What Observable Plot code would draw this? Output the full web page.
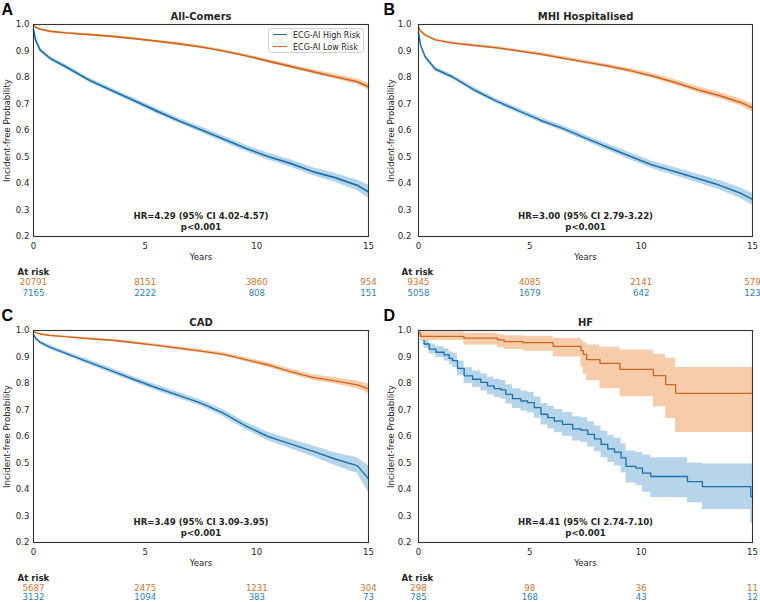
<!DOCTYPE html>
<html><head><meta charset="utf-8">
<script src="https://cdn.jsdelivr.net/npm/d3@7"></script>
<script src="https://cdn.jsdelivr.net/npm/@observablehq/plot@0.6"></script>
<style>
html,body{margin:0;padding:0;background:#fff;overflow:hidden}
#wrap{position:relative;width:760px;height:602px;font-family:"DejaVu Sans",sans-serif}
.panel{position:absolute}
.legend{position:absolute;left:268px;top:28px;width:96px;height:25px;border:1px solid #d0d0d0;border-radius:3px;background:rgba(255,255,255,0.85);font-size:8px;color:#262626;box-sizing:border-box}
.legend .row{position:absolute;left:4px;height:10px;line-height:10px;white-space:nowrap}
.legend .sw{display:inline-block;width:14px;height:0;border-top:1.6px solid;vertical-align:middle;margin-right:6px;position:relative;top:-1px}
</style></head><body><div id="wrap"></div>
<script>
// ---------- shared ticks ----------
const xTicks = [0, 5, 10, 15];
const yTicks = [0.2, 0.3, 0.4, 0.5, 0.6, 0.7, 0.8, 0.9, 1.0];
const riskYears = [0, 5, 10, 15];
const gridYears = [0, 0.1, 0.3, 0.75, 1.5, 2.5, 3.5, 4.5, 5.5, 6.5, 7.5, 8.5, 9.5, 10.5, 11.5, 12.5, 13.5, 14.5, 15];
const groups = ["ECG-AI High Risk", "ECG-AI Low Risk"];

// ---------- A: All-Comers ----------
const highA   = [0.98, 0.94, 0.903, 0.872, 0.838, 0.79, 0.751, 0.713, 0.674, 0.637, 0.603, 0.568, 0.533, 0.502, 0.476, 0.445, 0.422, 0.393, 0.368];
const highA_l = [0.977, 0.934, 0.896, 0.865, 0.83, 0.782, 0.742, 0.704, 0.664, 0.627, 0.592, 0.557, 0.521, 0.489, 0.462, 0.43, 0.405, 0.373, 0.343];
const highA_u = [0.983, 0.946, 0.91, 0.879, 0.846, 0.798, 0.76, 0.722, 0.684, 0.647, 0.614, 0.579, 0.545, 0.515, 0.49, 0.46, 0.439, 0.413, 0.393];
const lowA    = [0.997, 0.99, 0.982, 0.974, 0.968, 0.962, 0.955, 0.947, 0.937, 0.927, 0.915, 0.9, 0.882, 0.862, 0.842, 0.822, 0.803, 0.784, 0.765];
const lowA_l  = [0.996, 0.988, 0.979, 0.971, 0.965, 0.959, 0.951, 0.943, 0.933, 0.922, 0.91, 0.895, 0.876, 0.856, 0.835, 0.814, 0.794, 0.774, 0.753];
const lowA_u  = [0.998, 0.992, 0.985, 0.977, 0.971, 0.965, 0.959, 0.951, 0.941, 0.932, 0.92, 0.905, 0.888, 0.868, 0.849, 0.83, 0.812, 0.794, 0.777];
const riskLowA  = [20791, 8151, 3860, 954];
const riskHighA = [7165, 2222, 808, 151];

// ---------- B: MHI Hospitalised ----------
const highB   = [0.97, 0.92, 0.878, 0.832, 0.803, 0.753, 0.711, 0.674, 0.638, 0.607, 0.571, 0.537, 0.503, 0.47, 0.445, 0.42, 0.394, 0.362, 0.34];
const highB_l = [0.967, 0.914, 0.871, 0.824, 0.795, 0.744, 0.702, 0.664, 0.628, 0.596, 0.56, 0.525, 0.49, 0.456, 0.43, 0.404, 0.376, 0.342, 0.318];
const highB_u = [0.973, 0.926, 0.885, 0.84, 0.811, 0.762, 0.72, 0.684, 0.648, 0.618, 0.582, 0.549, 0.516, 0.484, 0.46, 0.436, 0.412, 0.382, 0.362];
const lowB    = [0.99, 0.975, 0.96, 0.942, 0.93, 0.921, 0.912, 0.9, 0.888, 0.873, 0.858, 0.843, 0.826, 0.806, 0.782, 0.755, 0.732, 0.705, 0.685];
const lowB_l  = [0.988, 0.972, 0.956, 0.938, 0.926, 0.916, 0.907, 0.895, 0.882, 0.867, 0.851, 0.836, 0.818, 0.797, 0.772, 0.744, 0.72, 0.692, 0.67];
const lowB_u  = [0.992, 0.978, 0.964, 0.946, 0.934, 0.926, 0.917, 0.905, 0.894, 0.879, 0.865, 0.85, 0.834, 0.815, 0.792, 0.766, 0.744, 0.718, 0.7];
const riskLowB  = [9345, 4085, 2141, 579];
const riskHighB = [5058, 1679, 642, 123];

// ---------- C: CAD ----------
const highC   = [0.985, 0.97, 0.955, 0.936, 0.912, 0.88, 0.848, 0.815, 0.784, 0.755, 0.726, 0.688, 0.64, 0.6, 0.572, 0.545, 0.515, 0.49, 0.44];
const highC_l = [0.982, 0.964, 0.948, 0.928, 0.904, 0.871, 0.838, 0.805, 0.773, 0.743, 0.714, 0.675, 0.626, 0.584, 0.554, 0.525, 0.491, 0.46, 0.39];
const highC_u = [0.988, 0.976, 0.962, 0.944, 0.92, 0.889, 0.858, 0.825, 0.795, 0.767, 0.738, 0.701, 0.654, 0.616, 0.59, 0.565, 0.539, 0.52, 0.49];
const lowC    = [0.996, 0.992, 0.987, 0.981, 0.976, 0.969, 0.963, 0.954, 0.944, 0.933, 0.922, 0.91, 0.89, 0.87, 0.845, 0.823, 0.81, 0.795, 0.78];
const lowC_l  = [0.995, 0.99, 0.984, 0.978, 0.973, 0.965, 0.959, 0.949, 0.939, 0.927, 0.916, 0.903, 0.882, 0.861, 0.835, 0.812, 0.798, 0.781, 0.762];
const lowC_u  = [0.997, 0.994, 0.99, 0.984, 0.979, 0.973, 0.967, 0.959, 0.949, 0.939, 0.928, 0.917, 0.898, 0.879, 0.855, 0.834, 0.822, 0.809, 0.798];
const riskLowC  = [5687, 2475, 1231, 304];
const riskHighC = [3132, 1094, 383, 73];

// ---------- D: HF (step curves) ----------
const highD_t = [0, 0.1, 0.25, 0.48, 0.78, 1.15, 1.38, 1.53, 1.75, 2.05, 2.43, 2.8, 3.1, 3.4, 3.7, 3.92, 4.22, 4.6, 4.9, 5.2, 5.5, 5.8, 6.1, 6.47, 6.92, 7.3, 7.6, 7.9, 8.2, 8.5, 8.8, 9.1, 9.32, 9.76, 10.06, 10.43, 12.08, 12.75, 14.92, 15];
const highD   = [0.994, 0.971, 0.949, 0.93, 0.918, 0.908, 0.895, 0.886, 0.857, 0.829, 0.816, 0.804, 0.791, 0.781, 0.776, 0.759, 0.743, 0.734, 0.728, 0.709, 0.684, 0.671, 0.658, 0.646, 0.629, 0.624, 0.608, 0.591, 0.57, 0.553, 0.541, 0.519, 0.487, 0.481, 0.462, 0.449, 0.43, 0.411, 0.373, 0.373];
const highD_l = [0.989, 0.959, 0.933, 0.911, 0.897, 0.885, 0.87, 0.86, 0.829, 0.799, 0.785, 0.772, 0.758, 0.747, 0.741, 0.723, 0.706, 0.696, 0.689, 0.669, 0.643, 0.628, 0.614, 0.601, 0.583, 0.577, 0.56, 0.542, 0.52, 0.502, 0.489, 0.462, 0.425, 0.415, 0.39, 0.37, 0.35, 0.325, 0.272, 0.272];
const highD_u = [0.999, 0.983, 0.965, 0.949, 0.939, 0.931, 0.92, 0.912, 0.885, 0.859, 0.847, 0.836, 0.824, 0.815, 0.811, 0.795, 0.78, 0.772, 0.767, 0.749, 0.725, 0.714, 0.702, 0.691, 0.675, 0.671, 0.656, 0.64, 0.62, 0.604, 0.593, 0.573, 0.545, 0.54, 0.53, 0.52, 0.5, 0.496, 0.496, 0.496];
const lowD_t  = [0, 0.09, 2.04, 3.55, 3.85, 4.7, 6.05, 7.3, 7.4, 7.55, 8.15, 9.05, 10.55, 11.1, 11.55, 15];
const lowD    = [0.99, 0.978, 0.971, 0.965, 0.958, 0.954, 0.94, 0.924, 0.91, 0.89, 0.876, 0.853, 0.83, 0.796, 0.763, 0.763];
const lowD_l  = [0.975, 0.962, 0.945, 0.935, 0.928, 0.922, 0.9, 0.86, 0.835, 0.81, 0.78, 0.75, 0.712, 0.668, 0.615, 0.615];
const lowD_u  = [1.0, 0.994, 0.99, 0.984, 0.98, 0.978, 0.97, 0.962, 0.955, 0.945, 0.937, 0.926, 0.91, 0.895, 0.86, 0.86];
const riskLowD  = [298, 98, 36, 11];
const riskHighD = [785, 168, 43, 12];

// ---------- styling ----------
const BLUE = "#1b71ab", ORANGE = "#d2641f";
const BLUE_BAND = "#b6d5ea", ORANGE_BAND = "#f6ccab";
const BLUE_TXT = "#2f7fb3", ORANGE_TXT = "#cf7330";
const INK = "#262626";

function rows(t, s, l, u) { return t.map((d, i) => ({t: d, s: s[i], l: l[i], u: u[i]})); }

function panel(cfg) {
  const hi = rows(cfg.tHigh, cfg.high, cfg.highL, cfg.highU);
  const lo = rows(cfg.tLow, cfg.low, cfg.lowL, cfg.lowU);
  const curve = cfg.curve;
  const riskLow = riskYears.map((t, i) => ({t, n: cfg.riskLow[i]}));
  const riskHigh = riskYears.map((t, i) => ({t, n: cfg.riskHigh[i]}));
  const lw = cfg.lw;
  return Plot.plot({
    width: 380, height: 300,
    marginTop: 24, marginBottom: 64, marginLeft: cfg.mL, marginRight: cfg.mR,
    x: {domain: [0, 15]},
    y: {domain: [0.2, 1.0]},
    style: {fontFamily: "DejaVu Sans", fontSize: "8.6px", color: INK, background: "transparent", overflow: "visible"},
    marks: [
      Plot.areaY(hi, {x: "t", y1: "l", y2: "u", fill: BLUE_BAND, curve}),
      Plot.line(hi, {x: "t", y: "s", stroke: BLUE, strokeWidth: lw, curve}),
      Plot.areaY(lo, {x: "t", y1: "l", y2: "u", fill: ORANGE_BAND, curve}),
      Plot.line(lo, {x: "t", y: "s", stroke: ORANGE, strokeWidth: lw, curve}),
      Plot.frame({stroke: "#333", strokeWidth: 1.1}),
      Plot.axisX(xTicks, {tickSize: 0, tickPadding: 6, label: null, tickFormat: d3.format("d"), fill: INK}),
      Plot.axisY(yTicks, {tickSize: 0, tickPadding: cfg.yPad, label: null, tickFormat: d3.format(".1f"), fill: INK}),
      Plot.text(["Years"], {text: d => d, frameAnchor: "bottom", dy: 20.5, lineAnchor: "middle", fill: INK}),
      Plot.text(["Incident-free Probability"], {text: d => d, frameAnchor: "left", rotate: -90, dx: cfg.yLabDx, textAnchor: "middle", lineAnchor: "middle", fill: INK}),
      Plot.text([cfg.title], {text: d => d, frameAnchor: "top", dy: -8, lineAnchor: "middle", fontWeight: "bold", fontSize: 10, fill: INK}),
      Plot.text([cfg.letter], {text: d => d, frameAnchor: "top-left", dx: cfg.letterDx, dy: -15, textAnchor: "start", lineAnchor: "middle", fontWeight: "bold", fontSize: 16, fontFamily: "Liberation Sans", fill: "#000"}),
      Plot.text([cfg.hr], {text: d => d, frameAnchor: "bottom", dy: -20, lineAnchor: "middle", fontWeight: "bold", fill: INK}),
      Plot.text(["p<0.001"], {text: d => d, frameAnchor: "bottom", dy: -9, lineAnchor: "middle", fontWeight: "bold", fill: INK}),
      Plot.text(["At risk"], {text: d => d, frameAnchor: "bottom-left", dx: cfg.riskDx, dy: 35.3, textAnchor: "start", lineAnchor: "middle", fontWeight: "bold", fill: INK}),
      Plot.text(riskLow, {x: "t", text: d => String(d.n), frameAnchor: "bottom", dy: 45.8, lineAnchor: "middle", fill: ORANGE_TXT}),
      Plot.text(riskHigh, {x: "t", text: d => String(d.n), frameAnchor: "bottom", dy: cfg.blueDy, lineAnchor: "middle", fill: BLUE_TXT})
    ]
  });
}

const left = {mL: 33, mR: 12, yPad: 4, yLabDx: -26.3, letterDx: -32, riskDx: -16};
const right = {mL: 38, mR: 8, yPad: 7, yLabDx: -27, letterDx: -35, riskDx: -17};

const panels = [
  {pos: [0, 0], cfg: {...left, blueDy: 56.4, letter: "A", title: "All-Comers", hr: "HR=4.29 (95% CI 4.02-4.57)", curve: "linear", lw: 1.7,
    tHigh: gridYears, high: highA, highL: highA_l, highU: highA_u,
    tLow: gridYears, low: lowA, lowL: lowA_l, lowU: lowA_u, riskLow: riskLowA, riskHigh: riskHighA}},
  {pos: [380, 0], cfg: {...right, blueDy: 56.4, letter: "B", title: "MHI Hospitalised", hr: "HR=3.00 (95% CI 2.79-3.22)", curve: "linear", lw: 1.5,
    tHigh: gridYears, high: highB, highL: highB_l, highU: highB_u,
    tLow: gridYears, low: lowB, lowL: lowB_l, lowU: lowB_u, riskLow: riskLowB, riskHigh: riskHighB}},
  {pos: [0, 306], cfg: {...left, blueDy: 54.6, letter: "C", title: "CAD", hr: "HR=3.49 (95% CI 3.09-3.95)", curve: "linear", lw: 1.4,
    tHigh: gridYears, high: highC, highL: highC_l, highU: highC_u,
    tLow: gridYears, low: lowC, lowL: lowC_l, lowU: lowC_u, riskLow: riskLowC, riskHigh: riskHighC}},
  {pos: [380, 306], cfg: {...right, blueDy: 54.6, letter: "D", title: "HF", hr: "HR=4.41 (95% CI 2.74-7.10)", curve: "step-after", lw: 1.3,
    tHigh: highD_t, high: highD, highL: highD_l, highU: highD_u,
    tLow: lowD_t, low: lowD, lowL: lowD_l, lowU: lowD_u, riskLow: riskLowD, riskHigh: riskHighD}}
];

const wrap = document.getElementById("wrap");
for (const p of panels) {
  const div = document.createElement("div");
  div.className = "panel";
  div.style.left = p.pos[0] + "px";
  div.style.top = p.pos[1] + "px";
  div.appendChild(panel(p.cfg));
  wrap.appendChild(div);
}

// legend (panel A)
const leg = document.createElement("div");
leg.className = "legend";
[[groups[0], BLUE, 2], [groups[1], ORANGE, 14]].forEach(([label, color, top]) => {
  const r = document.createElement("div");
  r.className = "row";
  r.style.top = top + "px";
  const sw = document.createElement("span");
  sw.className = "sw";
  sw.style.borderTopColor = color;
  r.appendChild(sw);
  r.appendChild(document.createTextNode(label));
  leg.appendChild(r);
});
wrap.appendChild(leg);
</script>
</body></html>
